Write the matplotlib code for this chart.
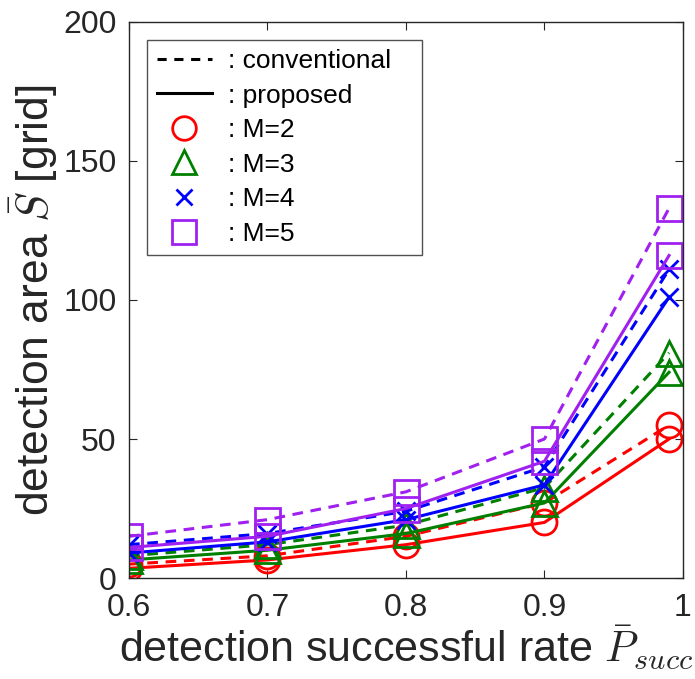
import matplotlib
matplotlib.use("Agg")
import matplotlib.pyplot as plt
from matplotlib.lines import Line2D

plt.rcParams['font.family'] = ['Liberation Sans', 'DejaVu Sans']
plt.rcParams['mathtext.fontset'] = 'cm'

# detection successful rate
p_succ = [0.6, 0.7, 0.8, 0.9, 0.99]

# detection area, conventional (dashed) and proposed (solid)
conv_m2 = [5, 8, 15, 27, 55]
prop_m2 = [3.5, 6.5, 12, 20, 50]
conv_m3 = [8, 12, 19, 32.5, 81]
prop_m3 = [6.5, 10, 16, 27, 74]
conv_m4 = [12, 16, 24, 40, 111]
prop_m4 = [9, 13, 21, 33.5, 101]
conv_m5 = [15, 21, 31, 50, 133]
prop_m5 = [11, 15, 25, 42, 116]

labels = ['M=2', 'M=3', 'M=4', 'M=5']
colors = ['#ff0000', '#008000', '#0000ff', '#a020f0']
markers = ['o', '^', 'x', 's']
msizes = [18, 18, 13, 18]

fig = plt.figure(figsize=(6.95, 6.79), dpi=100)
ax = fig.add_axes([0.1856, 0.1487, 0.797, 0.819])

conv = [conv_m2, conv_m3, conv_m4, conv_m5]
prop = [prop_m2, prop_m3, prop_m4, prop_m5]
for c, p, col, mk, ms in zip(conv, prop, colors, markers, msizes):
    ax.plot(p_succ, c, '--', color=col, lw=2.2, dashes=(3.5, 2.5),
            marker=mk, ms=ms, mfc='none', mew=2)
    ax.plot(p_succ, p, '-', color=col, lw=2.2,
            marker=mk, ms=ms, mfc='none', mew=2)

ax.set_xlim(0.6, 1)
ax.set_ylim(0, 200)
ax.set_xticks([0.6, 0.7, 0.8, 0.9, 1])
ax.set_xticklabels(['0.6', '0.7', '0.8', '0.9', '1'])
ax.set_yticks([0, 50, 100, 150, 200])
ax.tick_params(direction='in', labelsize=23, colors='#262626', length=6,
               top=True, right=True)
ax.tick_params(axis='x', pad=11)
ax.tick_params(axis='y', pad=9)
for s in ax.spines.values():
    s.set_color('#262626')
    s.set_linewidth(1.0)

ax.set_xlabel(r'detection successful rate $\bar{P}_{succ}$', fontsize=31,
              color='#262626', labelpad=0)
ax.set_ylabel(r'detection area $\bar{S}$ [grid]', fontsize=32,
              color='#262626', labelpad=2)

handles = [Line2D([], [], color='k', ls='--', lw=2.2, dashes=(3, 2.5)),
           Line2D([], [], color='k', ls='-', lw=2.2)]
for col, mk, ms in zip(colors, markers, msizes):
    handles.append(Line2D([], [], color=col, ls='none', marker=mk, ms=ms - 1,
                          mfc='none', mew=2))
names = [': conventional   ', ': proposed'] + [': ' + l for l in labels]
leg = ax.legend(handles, names, loc='upper left', bbox_to_anchor=(0.033, 0.968),
                fontsize=19, frameon=True, fancybox=False, handlelength=2.1,
                handletextpad=0.6, labelspacing=0.4, borderpad=0.35,
                borderaxespad=0)
leg.get_frame().set_edgecolor('#262626')
leg.get_frame().set_linewidth(1.0)

fig.savefig('out.png', dpi=100)
